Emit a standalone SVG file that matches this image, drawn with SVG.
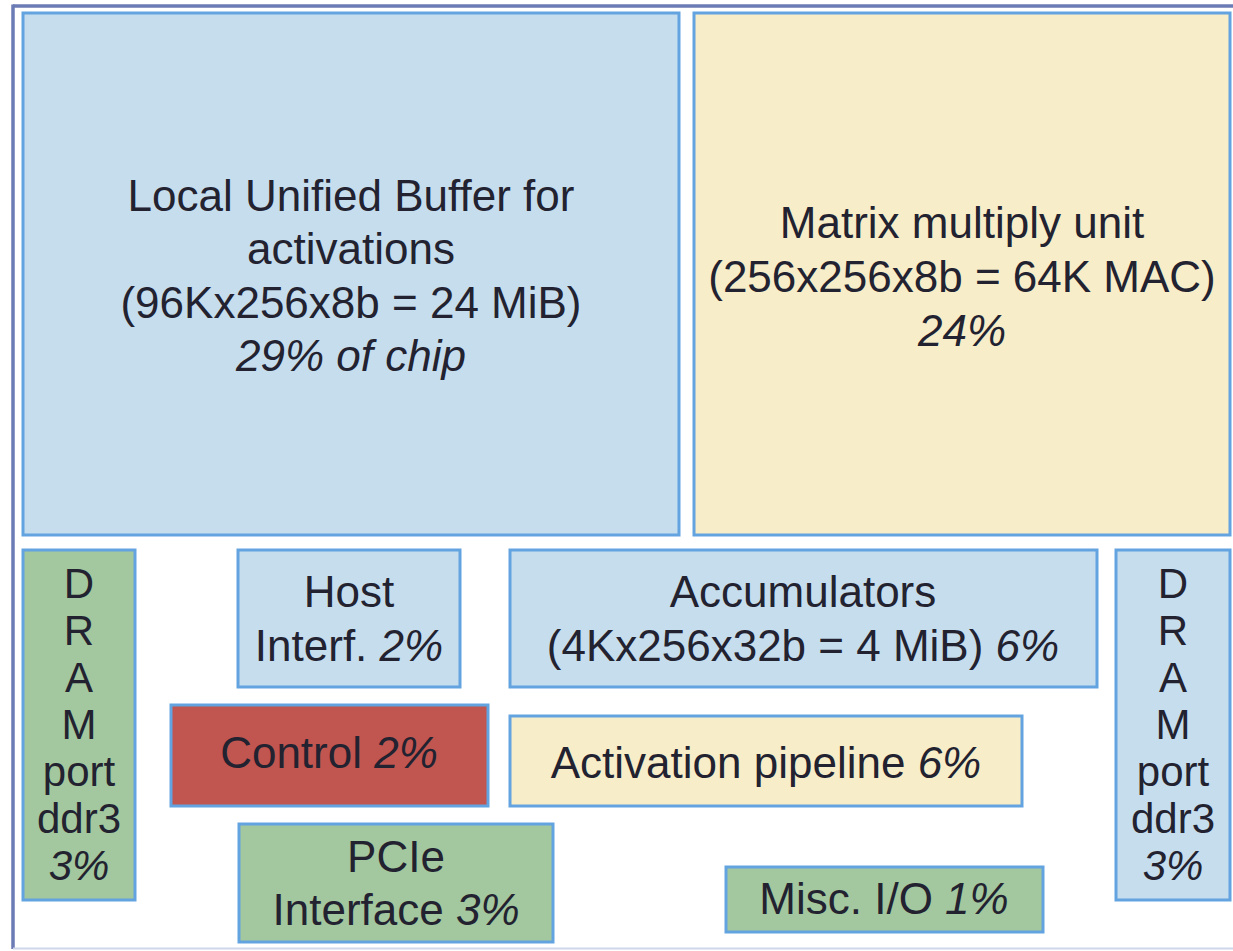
<svg xmlns="http://www.w3.org/2000/svg" width="1233" height="951" viewBox="0 0 1233 951">
<style>
.b{stroke:#62a3e0;stroke-width:3}
.blue{fill:#c6ddee}
.yel{fill:#f7edc8}
.grn{fill:#a3c79e}
.red{fill:#c1554f}
text{font-family:"Liberation Sans",Arial,sans-serif;font-size:44px;fill:#222230;text-anchor:middle;dominant-baseline:central}
.d{font-size:42px}
.i{font-style:italic}
</style>
<rect width="1233" height="951" fill="#ffffff"/>
<g id="frame">
<line x1="13" y1="6" x2="1233" y2="6" stroke="#6b7bb5" stroke-width="3.5"/>
<line x1="13" y1="4.5" x2="13" y2="949" stroke="#6b7bb5" stroke-width="3.5"/>
<line x1="13" y1="948.5" x2="1233" y2="948.5" stroke="#cfd6ea" stroke-width="2"/>
</g>
<g id="lub">
<rect class="b blue" x="23" y="13" width="656" height="522"/>
<text x="351" y="195">Local Unified Buffer for</text>
<text x="351" y="248">activations</text>
<text x="351" y="302">(96Kx256x8b = 24 MiB)</text>
<text x="351" y="355" class="i">29% of chip</text>
</g>
<g id="mmu">
<rect class="b yel" x="694" y="13" width="536" height="522"/>
<text x="962" y="222">Matrix multiply unit</text>
<text x="962" y="276">(256x256x8b = 64K MAC)</text>
<text x="962" y="330" class="i">24%</text>
</g>
<g id="dram-left">
<rect class="b grn" x="23" y="550" width="112" height="350"/>
<text class="d" x="79" y="583">D</text>
<text class="d" x="79" y="630">R</text>
<text class="d" x="79" y="677">A</text>
<text class="d" x="79" y="724">M</text>
<text class="d" x="79" y="771">port</text>
<text class="d" x="79" y="818">ddr3</text>
<text class="d i" x="79" y="865">3%</text>
</g>
<g id="host">
<rect class="b blue" x="238" y="550" width="222" height="137"/>
<text x="349" y="591">Host</text>
<text x="349" y="645">Interf. <tspan class="i">2%</tspan></text>
</g>
<g id="acc">
<rect class="b blue" x="510" y="550" width="587" height="137"/>
<text x="803" y="591">Accumulators</text>
<text x="803" y="645">(4Kx256x32b = 4 MiB) <tspan class="i">6%</tspan></text>
</g>
<g id="dram-right">
<rect class="b blue" x="1116" y="550" width="114" height="350"/>
<text class="d" x="1173" y="583">D</text>
<text class="d" x="1173" y="630">R</text>
<text class="d" x="1173" y="677">A</text>
<text class="d" x="1173" y="724">M</text>
<text class="d" x="1173" y="771">port</text>
<text class="d" x="1173" y="818">ddr3</text>
<text class="d i" x="1173" y="865">3%</text>
</g>
<g id="control">
<rect class="b red" x="171" y="705" width="317" height="101"/>
<text x="329" y="752">Control <tspan class="i">2%</tspan></text>
</g>
<g id="act">
<rect class="b yel" x="510" y="716" width="512" height="90"/>
<text x="766" y="762">Activation pipeline <tspan class="i">6%</tspan></text>
</g>
<g id="pcie">
<rect class="b grn" x="239" y="824" width="314" height="118"/>
<text x="396" y="856">PCIe</text>
<text x="396" y="909">Interface <tspan class="i">3%</tspan></text>
</g>
<g id="misc">
<rect class="b grn" x="726" y="867" width="317" height="65"/>
<text x="884" y="898">Misc. I/O <tspan class="i">1%</tspan></text>
</g>
<g id="connectors"></g>
</svg>
